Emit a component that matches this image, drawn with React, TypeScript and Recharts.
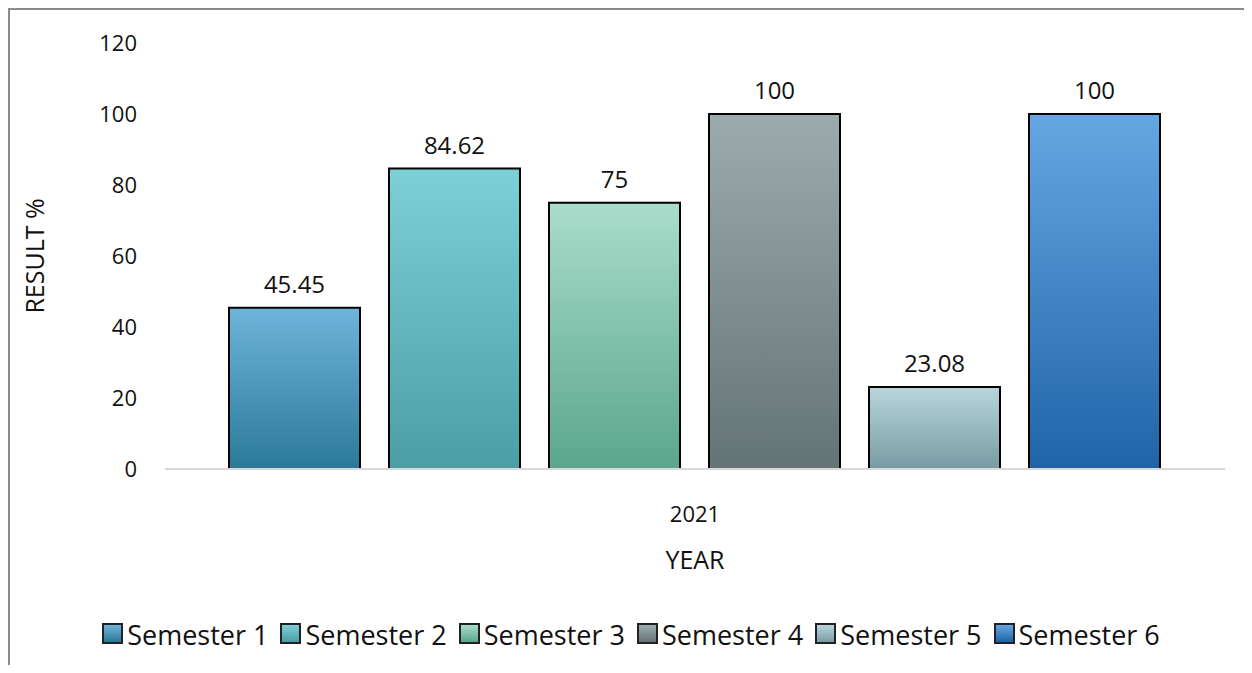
import { BarChart, Bar, XAxis, YAxis, Legend, LabelList, Label } from "recharts";

// #region Sample data

const years = ["2021"];
const semesters = ["Semester 1", "Semester 2", "Semester 3", "Semester 4", "Semester 5", "Semester 6"];
const results = [45.45, 84.62, 75, 100, 23.08, 100];
const yTicks = [0, 20, 40, 60, 80, 100, 120];

// #endregion

// top / bottom colours of each bar's gradient
const shades = [
    ["#6db5da", "#2b7999"],
    ["#7ed0d7", "#4a9ea4"],
    ["#a9ddcb", "#5ba68e"],
    ["#9dabac", "#647373"],
    ["#b8d5da", "#789ca4"],
    ["#65a7e2", "#1f64a8"],
];

const data = years.map((year) => {
    const row: Record<string, string | number> = { year };
    semesters.forEach((s, i) => {
        row[s] = results[i];
    });
    return row;
});

const font = "'Open Sans', 'Noto Sans', sans-serif";

const LegendBox = () => (
    <div
        style={{
            display: "flex",
            justifyContent: "center",
            alignItems: "center",
            fontFamily: font,
            fontSize: 27,
            color: "#111",
        }}
    >
        {semesters.map((s, i) => (
            <span key={s} style={{ display: "flex", alignItems: "center", margin: "0 6px" }}>
                <span
                    style={{
                        display: "inline-block",
                        width: 17,
                        height: 17,
                        marginRight: 4,
                        marginTop: -3,
                        border: "2px solid #222",
                        background: `linear-gradient(${shades[i][0]}, ${shades[i][1]})`,
                    }}
                />
                {s}
            </span>
        ))}
    </div>
);

const App = () => {
    return (
        <div
            style={{
                position: "relative",
                width: 1242,
                height: 655,
                borderLeft: "2px solid #8c8c8c",
                borderTop: "2px solid #8c8c8c",
                background: "#fff",
            }}
        >
            <BarChart
                width={1242}
                height={655}
                data={data}
                margin={{ top: 33, right: 27, left: 0, bottom: 0 }}
                barCategoryGap={64}
                barGap={29}
            >
                <defs>
                    {shades.map(([top, bottom], i) => (
                        <linearGradient key={i} id={`grad${i}`} x1="0" y1="0" x2="0" y2="1">
                            <stop offset="0%" stopColor={top} />
                            <stop offset="100%" stopColor={bottom} />
                        </linearGradient>
                    ))}
                </defs>
                <XAxis
                    dataKey="year"
                    height={196}
                    tickLine={false}
                    axisLine={{ stroke: "#d9d9d9", strokeWidth: 2 }}
                    tickMargin={31}
                    tick={{ fill: "#111", fontSize: 22, fontFamily: font }}
                >
                    <Label
                        content={({ viewBox }: any) => (
                            <text
                                x={viewBox.x + viewBox.width / 2}
                                y={viewBox.y + 100}
                                textAnchor="middle"
                                fontSize={25}
                                fontFamily={font}
                                fill="#111"
                            >
                                YEAR
                            </text>
                        )}
                    />
                </XAxis>
                <YAxis
                    width={155}
                    domain={[0, 120]}
                    ticks={yTicks}
                    axisLine={false}
                    tickLine={false}
                    tickMargin={22}
                    tick={{ fill: "#111", fontSize: 22, fontFamily: font }}
                >
                    <Label
                        content={({ viewBox }: any) => (
                            <text
                                transform={`translate(34, ${viewBox.y + viewBox.height / 2}) rotate(-90)`}
                                textAnchor="middle"
                                fontSize={25}
                                fontFamily={font}
                                fill="#111"
                            >
                                RESULT %
                            </text>
                        )}
                    />
                </YAxis>
                <Legend
                    layout="horizontal"
                    verticalAlign="middle"
                    align="center"
                    content={() => <LegendBox />}
                    wrapperStyle={{ top: 606, left: 0, width: 1242 }}
                />
                {semesters.map((s, i) => (
                    <Bar
                        key={s}
                        dataKey={s}
                        fill={`url(#grad${i})`}
                        stroke="#000"
                        strokeWidth={2}
                        isAnimationActive={false}
                    >
                        <LabelList
                            dataKey={s}
                            position="top"
                            offset={15}
                            fill="#111"
                            fontSize={24}
                            fontFamily={font}
                        />
                    </Bar>
                ))}
            </BarChart>
        </div>
    );
};

export default App;
